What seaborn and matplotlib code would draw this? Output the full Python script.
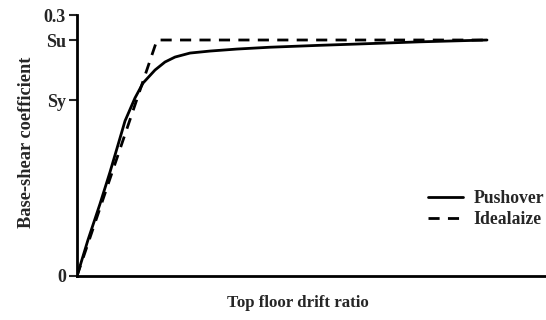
import numpy as np
import pandas as pd
import matplotlib
matplotlib.use('Agg')
import matplotlib.pyplot as plt
import seaborn as sns

# Pushover curve (drift ratio, base-shear coefficient)
push_x = [0.0, 0.00117, 0.00245, 0.00352, 0.00437, 0.00512, 0.00618, 0.00704,
          0.00832, 0.00938, 0.01045, 0.01205, 0.01418, 0.01706, 0.02058,
          0.02591, 0.02942, 0.03657, 0.04371]
push_y = [0.0, 0.0414, 0.0828, 0.1195, 0.1506, 0.1782, 0.2046, 0.2218,
          0.2368, 0.2460, 0.2517, 0.2563, 0.2586, 0.2609, 0.2630,
          0.2652, 0.2665, 0.2692, 0.2713]

# Idealized bilinear curve
ideal_x = [0.0, 0.00853, 0.04371]
ideal_y = [0.0, 0.2713, 0.2713]

# y ticks
ytick_vals = [0.0, 0.202, 0.2713, 0.3]
ytick_labels = ['0', 'Sy', 'Su', '0.3']

sns.set_style('white')
plt.rcParams['font.family'] = ['Liberation Serif', 'DejaVu Serif']
plt.rcParams['font.weight'] = 'bold'

push = pd.DataFrame({'x': push_x, 'y': push_y})
ideal = pd.DataFrame({'x': ideal_x, 'y': ideal_y})

fig = plt.figure(figsize=(5.46, 3.2), dpi=100)
ax = fig.add_axes([0.141, 0.1375, 0.859, 0.8155])

sns.lineplot(data=push, x='x', y='y', color='black', linewidth=2,
             estimator=None, sort=False, label='Pushover', ax=ax)
sns.lineplot(data=ideal, x='x', y='y', color='black', linewidth=2,
             linestyle=(0, (4, 3)), estimator=None, sort=False,
             label='Idealaize', ax=ax)

ax.set_xlim(0, 0.05)
ax.set_ylim(0, 0.3)
ax.set_xticks([])
ax.set_yticks(ytick_vals)
ax.set_yticklabels(ytick_labels, fontsize=13, fontweight='bold')
ax.tick_params(axis='y', direction='out', length=6, width=1.5, left=True, pad=2)

for s in ['top', 'right']:
    ax.spines[s].set_visible(False)
for s in ['left', 'bottom']:
    ax.spines[s].set_linewidth(2)
    ax.spines[s].set_color('black')

ax.set_xlabel('Top floor drift ratio', fontsize=12.2, fontweight='bold')
ax.set_ylabel('Base-shear coefficient', fontsize=13.2, fontweight='bold')
ax.xaxis.set_label_coords(0.471, -0.073)
ax.yaxis.set_label_coords(-0.09, 0.513)

ax.legend(frameon=False, loc='center left', bbox_to_anchor=(0.748, 0.257),
          fontsize=12.7, handlelength=2.0, handletextpad=0.6, labelspacing=0.2,
          borderpad=0, borderaxespad=0)

fig.savefig('out.png', dpi=100)
